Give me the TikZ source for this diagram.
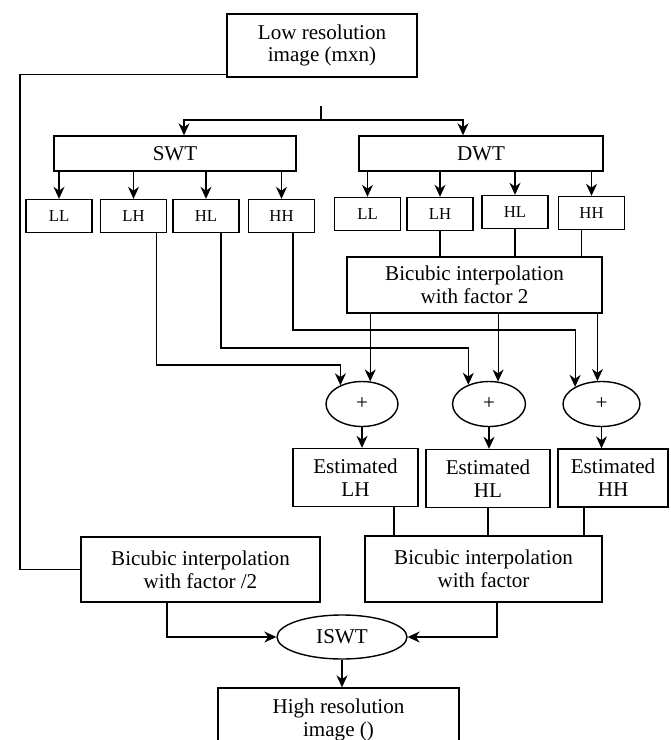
\documentclass[tikz,border=0pt]{standalone}
\usepackage{fontspec}
\setmainfont{Liberation Serif}
\usepackage{tikz}
\usetikzlibrary{positioning}
\usetikzlibrary{arrows}
\usetikzlibrary{arrows.meta}
\usetikzlibrary{shapes,calc}

\begin{document}
\begin{tikzpicture}[x=0.02cm,y=-0.02cm]
	\useasboundingbox (0,0) rectangle (670,740);
	\begin{scope}[every node/.style={draw,thick,rectangle,align=center,inner sep=2pt,font=\fontsize{12}{13}\selectfont}]
	    \node (low) [minimum width=3.8cm,minimum height=1.26cm] at (322,45.5) {Low resolution\\image (mxn)};
	    \node (swt) [minimum width=4.84cm,minimum height=0.7cm] at (175,153.5) {SWT};
	    \node (dwt) [minimum width=4.88cm,minimum height=0.7cm] at (481,153.5) {DWT};
	    \node (bic) [minimum width=5.1cm,minimum height=1.12cm] at (474.5,285) {Bicubic interpolation\\with factor 2};
	    \node (est1) [minimum width=2.5cm,minimum height=1.16cm] at (355.5,477.5) {Estimated\\LH};
	    \node (est2) [minimum width=2.48cm,minimum height=1.16cm] at (488,478.5) {Estimated\\HL};
	    \node (est3) [minimum width=2.2cm,minimum height=1.16cm] at (613,478) {Estimated\\HH};
	    \node (bica) [minimum width=4.78cm,minimum height=1.3cm] at (200.5,569.5) {Bicubic interpolation\\with factor /2};
	    \node (bicb) [minimum width=4.74cm,minimum height=1.32cm] at (483.5,569) {Bicubic interpolation\\with factor};
	    \node (high) [minimum width=4.82cm,minimum height=1.28cm] at (338.5,720) {High resolution\\image ()};
	\end{scope}

	\begin{scope}[every node/.style={draw,thick,rectangle,minimum width=1.32cm,minimum height=0.66cm,inner sep=1pt,font=\fontsize{9.5}{10}\selectfont}]
	    \node (sll) at (59,216) {LL};
	    \node (slh) at (133.5,216) {LH};
	    \node (shl) at (206,216) {HL};
	    \node (shh) at (281.5,216) {HH};
	    \node (dll) at (367.5,214) {LL};
	    \node (dlh) at (440,214) {LH};
	    \node (dhl) at (515,212) {HL};
	    \node (dhh) at (591.5,213) {HH};
	\end{scope}

	\begin{scope}[every node/.style={draw,thick,ellipse,inner sep=0pt,font=\fontsize{12}{13}\selectfont}]
	    \node (e1) [minimum width=1.44cm,minimum height=0.9cm] at (362,404) {+};
	    \node (e2) [minimum width=1.46cm,minimum height=0.9cm] at (489,404) {+};
	    \node (e3) [minimum width=1.54cm,minimum height=0.9cm] at (601.5,404) {+};
	    \node (iswt) [minimum width=2.6cm,minimum height=0.88cm] at (342,637) {ISWT};
	\end{scope}

	\coordinate (tap) at (321,106);
	\coordinate (fork) at (321,120);
	\coordinate (lft) at (20,0);
	\coordinate (rowa) at (0,365);
	\coordinate (rowb) at (0,348);
	\coordinate (rowc) at (0,330);

	\begin{scope}[semithick, >={Stealth[length=2.4mm,width=2.2mm]}]
	    % split to both transforms
	    \draw (tap) -- (fork);
	    \draw[->] (fork) -| ([xshift=0.18cm]swt.north);
	    \draw[->] (fork) -| ([xshift=-0.36cm]dwt.north);
	    % sub-bands
	    \foreach \b in {sll,slh,shl,shh} \draw[->] (\b |- swt.south) -- (\b.north);
	    \foreach \b in {dll,dlh,dhl,dhh} \draw[->] (\b |- dwt.south) -- (\b.north);
	    % DWT bands into interpolation
	    \draw (dlh.south) -- (dlh.south |- bic.north);
	    \draw (dhl.south) -- (dhl.south |- bic.north);
	    \draw ([xshift=-0.2cm]dhh.south) -- ([xshift=-0.2cm]dhh.south |- bic.north);
	    % SWT bands to adders
	    \draw[->] ([xshift=0.46cm]slh.south) |- (e1.139 |- rowa) -- (e1.139);
	    \draw[->] ([xshift=0.3cm]shl.south) |- (e2.137 |- rowb) -- (e2.137);
	    \draw[->] ([xshift=0.23cm]shh.south) |- (e3.147 |- rowc) -- (e3.147);
	    % interpolation to adders
	    \foreach \e/\a in {e1/70,e2/68,e3/100} \draw[->] (bic.south -| \e.\a) -- (\e.\a);
	    % adders to estimates
	    \foreach \e/\s in {e1/est1,e2/est2,e3/est3} \draw[->] (\e.south) -- (\e.south |- \s.north);
	    % estimates into second interpolation
	    \draw ([xshift=0.77cm]est1.south) -- ([xshift=0.77cm]est1.south |- bicb.north);
	    \draw (est2.south) -- (est2.south |- bicb.north);
	    \draw ([xshift=-0.58cm]est3.south) -- ([xshift=-0.58cm]est3.south |- bicb.north);
	    % input bypass
	    \draw ([yshift=0.06cm]low.south west) -| (lft |- bica.west) -- (bica.west);
	    % inverse transform
	    \draw[->] ([xshift=-0.67cm]bica.south) |- (iswt.west);
	    \draw[->] ([xshift=0.27cm]bicb.south) |- (iswt.east);
	    \draw[->] (iswt.south) -- (iswt.south |- high.north);
	\end{scope}
\end{tikzpicture}
\end{document}
